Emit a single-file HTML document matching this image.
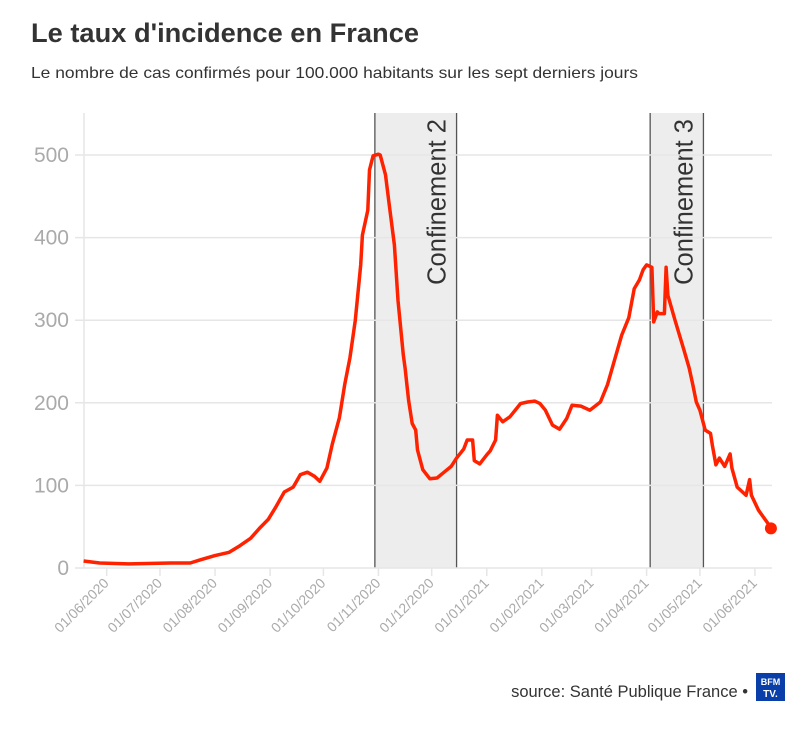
<!DOCTYPE html>
<html><head><meta charset="utf-8">
<style>
body{margin:0;background:#fff;width:812px;height:725px;overflow:hidden;font-family:"Liberation Sans",sans-serif}
</style></head>
<body>
<svg id="chart" width="812" height="725" xmlns="http://www.w3.org/2000/svg">
<text x="31" y="42" font-size="26.5" font-weight="bold" fill="#333" textLength="388" lengthAdjust="spacingAndGlyphs">Le taux d'incidence en France</text>
<text x="31" y="78" font-size="16" fill="#333" textLength="607" lengthAdjust="spacingAndGlyphs">Le nombre de cas confirmés pour 100.000 habitants sur les sept derniers jours</text>
<g id="bands"></g>
<g id="grid"></g>
<g id="xaxis"></g>
<path id="line" fill="none" stroke="#ff2200" stroke-width="3.5" stroke-linejoin="round"/>
<circle id="enddot" r="6" fill="#ff2200"/>
<text x="748" y="697" font-size="16.5" fill="#333" text-anchor="end">source: Santé Publique France •</text>
<g>
<rect x="756" y="673" width="29" height="28" fill="#0a3ea8"/>
<text x="770.5" y="685" font-size="9" font-weight="bold" fill="#fff" text-anchor="middle">BFM</text>
<text x="770.5" y="697" font-size="10" font-weight="bold" fill="#fff" text-anchor="middle">TV.</text>
</g>
</svg>
<script>
// day offsets from 01/06/2020
const days=[-13,-4,13,36,47,53,61,69,75,81,86,91,95,100,105,109,113,117,120,124,127,131,134,137,140,143,144,147,148,150,153,154,157,159,162,164,167,168,169,170,172,174,175,178,182,186,190,194,197,201,203,206,207,210,214,216,219,220,223,227,233,237,241,244,247,251,255,259,262,267,272,278,282,286,290,294,297,300,302,304,307,308,310,311,314,315,316,320,325,328,330,332,334,337,340,341,343,345,348,351,352,355,360,362,363,367,369,372,374];
const values=[8.5,6,5,6,6,10,15,19,27,36,48,59,73,92,98,113,116,111,105,121,150,182,222,255,300,367,403,433,482,499,501,500,476,441,391,324,258,242,223,203,175,167,143,119,108,109,116,123,133,144,155,155,130,126,137,142,155,185,177,183,199,201,202,199,191,173,168,181,197,196,191,201,222,252,282,303,338,349,361,367,364,298,310,308,308,364,330,300,264,242,222,201,191,167,163,149,125,133,123,138,121,98,88,107,88,70,64,55,48];
const yTicks=[0,100,200,300,400,500];
const monthDays=[0,30,61,92,122,153,183,214,245,273,304,334,365];
const monthLabels=["01/06/2020","01/07/2020","01/08/2020","01/09/2020","01/10/2020","01/11/2020","01/12/2020","01/01/2021","01/02/2021","01/03/2021","01/04/2021","01/05/2021","01/06/2021"];
const bandStarts=[151,306];
const bandEnds=[197,336];
const bandLabels=["Confinement 2","Confinement 3"];

const NS="http://www.w3.org/2000/svg";
const x=d=>106.7+d*1.776;
const y=v=>568-v*0.826;
function mk(tag,attrs,parent){const e=document.createElementNS(NS,tag);for(const k in attrs)e.setAttribute(k,attrs[k]);parent.appendChild(e);return e;}

const bands=document.getElementById('bands');
bandStarts.forEach((s,i)=>{
  const r=mk('rect',{x:x(s),y:113,width:x(bandEnds[i])-x(s),height:455,fill:'#ededed'},bands);
  
  
  [s,bandEnds[i]].forEach(d=>mk('line',{x1:x(d),x2:x(d),y1:113,y2:568,stroke:'#555','stroke-width':1.3},bands));
  const cx=x(bandEnds[i])-11;
  const t=mk('text',{x:cx,y:119,'font-size':25.5,fill:'#333','text-anchor':'end',transform:`rotate(-90 ${cx} 119)`},bands);
  
  
  t.textContent=bandLabels[i];
});

const grid=document.getElementById('grid');
mk('line',{x1:84,x2:84,y1:113,y2:568,stroke:'#e6e6e6','stroke-width':1.5},grid);
yTicks.forEach(v=>{
  mk('line',{x1:75,x2:772,y1:y(v),y2:y(v),stroke:'#e6e6e6','stroke-width':1.5},grid);
  const t=mk('text',{x:69,y:y(v)+7,'font-size':21,fill:'#aaa','text-anchor':'end'},grid);
  
  
  t.textContent=v;
});
const xa=document.getElementById('xaxis');
monthDays.forEach((d,i)=>{
  const px=x(d);
  mk('line',{x1:px,x2:px,y1:568,y2:576,stroke:'#e6e6e6','stroke-width':1.5},xa);
  const t=mk('text',{x:px+3,y:584,'font-size':14,fill:'#aaa','text-anchor':'end',transform:`rotate(-45 ${px+3} 584)`},xa);
  
  
  t.textContent=monthLabels[i];
});
let dpath='';
days.forEach((d,i)=>{dpath+=(i?'L':'M')+x(d).toFixed(1)+','+y(values[i]).toFixed(1);});
document.getElementById('line').setAttribute('d',dpath);
const last=days.length-1;
const dot=document.getElementById('enddot');
dot.setAttribute('cx',x(days[last]));dot.setAttribute('cy',y(values[last]));
</script>
</body></html>
